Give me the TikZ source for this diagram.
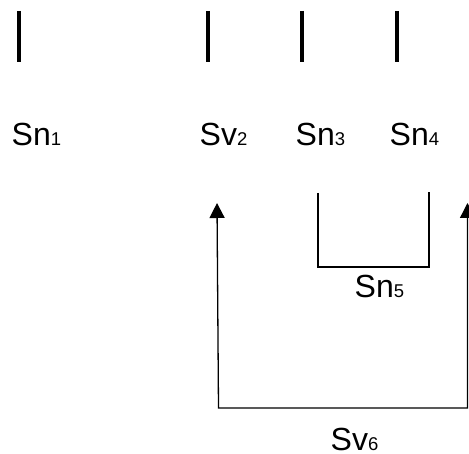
\documentclass[tikz,border=0pt]{standalone}
\usepackage{fontspec}
\setmainfont{Liberation Sans}
\usetikzlibrary{arrows.meta}
\tikzset{
  lbl/.style={anchor=base west, inner sep=0pt, font=\fontsize{32}{36}\selectfont},
  bar/.style={line width=3.6pt},
  thin/.style={line width=1.3pt},
  upar/.style={thin, {Triangle[length=15pt,width=15pt]}-{Triangle[length=15pt,width=15pt]}}
}
\newcommand{\sub}[1]{{\fontsize{18.5}{20}\selectfont #1}}
\begin{document}
\begin{tikzpicture}[x=1pt,y=-1pt]
\clip (0,0) rectangle (469,454);
\useasboundingbox (0,0) rectangle (469,454);
% top bars
\coordinate (b1t) at (18.7,11); \coordinate (b1b) at (18.7,62);
\coordinate (b2t) at (208,11);  \coordinate (b2b) at (208,62);
\coordinate (b3t) at (302,11);  \coordinate (b3b) at (302,62);
\coordinate (b4t) at (397,11);  \coordinate (b4b) at (397,62);
\draw[bar] (b1t) -- (b1b);
\draw[bar] (b2t) -- (b2b);
\draw[bar] (b3t) -- (b3b);
\draw[bar] (b4t) -- (b4b);
% labels
\node[lbl] (sn1) at (11.5,146) {Sn\sub{1}};
\node[lbl] (sv2) at (199.5,146) {Sv\sub{2}};
\node[lbl] (sn3) at (295.5,146) {Sn\sub{3}};
\node[lbl] (sn4) at (389.5,146) {Sn\sub{4}};
\node[lbl] (sn5) at (354.5,298) {Sn\sub{5}};
\node[lbl] (sv6) at (330.5,451) {Sv\sub{6}};
% Sn5 bracket
\coordinate (k1) at (318,193);
\coordinate (k2) at (318,267);
\coordinate (k3) at (429,267);
\coordinate (k4) at (429,192);
\draw[thin] (k1) -- (k2) -- (k3) -- (k4);
% Sv6 arrows
\coordinate (a1) at (217,203);
\coordinate (a2) at (218.5,408);
\coordinate (a3) at (467.5,408);
\coordinate (a4) at (467.5,203);
\draw[upar] (a1) -- (a2) -- (a3) -- (a4);
\end{tikzpicture}
\end{document}
